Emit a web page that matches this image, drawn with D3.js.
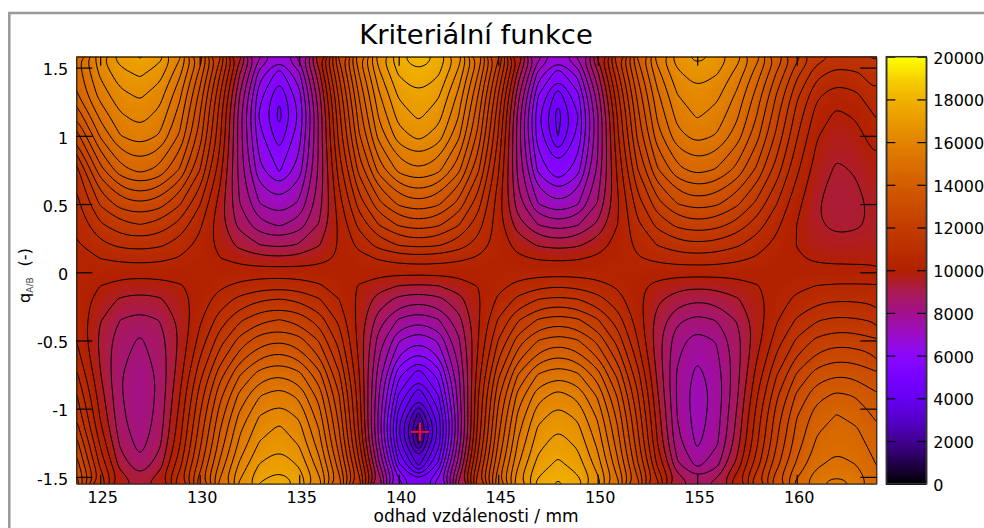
<!DOCTYPE html>
<html>
<head>
<meta charset="utf-8">
<script src="https://cdn.jsdelivr.net/npm/d3@7"></script>
<style>
  body { margin: 0; background: #fff; overflow: hidden; }
  text { font-family: 'DejaVu Sans', sans-serif; fill: #000; }
</style>
</head>
<body>
<svg id="chart" width="984" height="528"></svg>
<script>
// Values, one row per q, one column per distance
const distances = [123.8, 125, 126, 127, 128, 129, 130, 131, 132, 133, 134, 135, 136, 137, 138, 139, 140, 141, 142, 143, 144, 145, 146, 147, 148, 149, 150, 151, 152, 153, 154, 155, 156, 157, 158, 159, 160, 161, 162, 163, 164]
const ratios = [1.58, 1.45, 1.3, 1.15, 1, 0.75, 0.5, 0.35, 0.2, 0.1, 0, -0.1, -0.2, -0.35, -0.5, -0.75, -0.9, -1.05, -1.15, -1.25, -1.4, -1.55]
const criterion = [
  [14800, 16420, 17260, 17550, 17170, 16070, 14330, 12120, 9680, 7580, 6650, 7670, 9960, 12570, 14930, 16780, 17950, 18350, 17950, 16790, 14940, 12590, 9990, 7710, 6700, 7580, 9580, 11910, 14040, 15730, 16780, 17150, 16910, 16220, 15180, 13920, 12680, 11760, 11400, 11440, 11550],
  [14650, 16070, 16810, 17070, 16690, 15580, 13810, 11550, 9020, 6750, 5720, 6870, 9330, 12050, 14470, 16360, 17530, 17940, 17530, 16350, 14460, 12030, 9300, 6810, 5650, 6660, 8870, 11340, 13560, 15290, 16380, 16750, 16500, 15800, 14720, 13420, 12130, 11150, 10780, 10910, 11270],
  [14420, 15690, 16360, 16590, 16210, 15110, 13350, 11080, 8530, 6190, 5080, 6310, 8850, 11600, 14030, 15910, 17080, 17480, 17070, 15880, 13980, 11510, 8690, 6040, 4720, 5880, 8280, 10860, 13130, 14890, 15990, 16370, 16120, 15400, 14300, 12960, 11630, 10610, 10220, 10420, 10950],
  [13620, 15150, 15930, 16210, 15840, 14760, 13020, 10790, 8260, 5940, 4830, 6070, 8600, 11320, 13710, 15560, 16710, 17110, 16710, 15530, 13630, 11180, 8350, 5640, 4260, 5490, 7950, 10550, 12830, 14590, 15680, 16060, 15810, 15090, 13990, 12650, 11310, 10290, 9890, 10070, 10550],
  [12750, 14560, 15480, 15800, 15440, 14420, 12770, 10660, 8290, 6170, 5200, 6280, 8610, 11160, 13420, 15180, 16280, 16660, 16270, 15140, 13320, 10970, 8280, 5740, 4480, 5600, 7920, 10400, 12590, 14280, 15340, 15700, 15450, 14750, 13670, 12370, 11060, 10050, 9670, 9830, 10270],
  [11280, 13300, 14300, 14650, 14340, 13450, 12030, 10250, 8300, 6650, 5930, 6740, 8580, 10710, 12650, 14180, 15150, 15480, 15140, 14150, 12580, 10570, 8350, 6400, 5520, 6300, 8070, 10110, 11970, 13440, 14350, 14670, 14450, 13840, 12890, 11750, 10610, 9760, 9430, 9540, 9850],
  [10810, 12060, 12700, 12930, 12700, 12050, 11040, 9800, 8520, 7520, 7120, 7600, 8780, 10270, 11690, 12840, 13580, 13830, 13570, 12830, 11670, 10230, 8720, 7520, 7030, 7460, 8540, 9910, 11230, 12300, 12990, 13230, 13060, 12590, 11860, 11000, 10150, 9530, 9300, 9390, 9620],
  [10620, 11420, 11850, 12000, 11830, 11340, 10600, 9710, 8830, 8170, 7920, 8230, 9030, 10090, 11140, 12020, 12580, 12780, 12590, 12050, 11220, 10230, 9240, 8490, 8200, 8450, 9110, 10000, 10890, 11650, 12140, 12310, 12180, 11820, 11260, 10620, 10000, 9550, 9380, 9440, 9600],
  [10430, 10860, 11100, 11180, 11080, 10780, 10350, 9840, 9360, 9010, 8880, 9040, 9470, 10050, 10660, 11180, 11530, 11650, 11550, 11250, 10800, 10290, 9800, 9450, 9320, 9430, 9740, 10170, 10630, 11020, 11290, 11380, 11300, 11070, 10740, 10350, 9990, 9730, 9640, 9660, 9700],
  [10300, 10500, 10610, 10650, 10600, 10455, 10250, 10020, 9815, 9670, 9620, 9675, 9830, 10060, 10310, 10540, 10695, 10750, 10710, 10595, 10430, 10250, 10085, 9970, 9930, 9970, 10090, 10260, 10450, 10620, 10735, 10780, 10735, 10610, 10430, 10230, 10050, 9925, 9880, 9885, 9900],
  [10250, 10220, 10200, 10200, 10200, 10210, 10220, 10230, 10240, 10250, 10250, 10240, 10220, 10200, 10190, 10170, 10150, 10150, 10160, 10180, 10210, 10240, 10270, 10290, 10300, 10290, 10270, 10250, 10230, 10210, 10200, 10200, 10200, 10190, 10190, 10180, 10180, 10180, 10180, 10160, 10120],
  [10320, 10000, 9815, 9750, 9805, 9955, 10170, 10410, 10625, 10775, 10830, 10760, 10565, 10280, 9970, 9685, 9490, 9420, 9495, 9710, 10015, 10355, 10660, 10875, 10950, 10880, 10695, 10425, 10125, 9855, 9670, 9600, 9650, 9780, 9975, 10185, 10380, 10510, 10560, 10560, 10550],
  [10350, 9780, 9440, 9320, 9440, 9770, 10240, 10720, 11150, 11430, 11530, 11400, 11050, 10510, 9880, 9280, 8840, 8680, 8850, 9310, 9930, 10590, 11140, 11510, 11640, 11520, 11200, 10710, 10140, 9600, 9210, 9060, 9170, 9440, 9840, 10260, 10620, 10860, 10950, 10930, 10860],
  [10420, 9530, 9000, 8800, 9020, 9610, 10410, 11220, 11910, 12360, 12520, 12320, 11760, 10880, 9820, 8760, 7940, 7620, 7960, 8810, 9940, 11040, 11960, 12550, 12750, 12570, 12050, 11240, 10280, 9320, 8610, 8330, 8530, 9040, 9740, 10450, 11060, 11460, 11600, 11550, 11420],
  [10500, 9380, 8690, 8430, 8750, 9580, 10670, 11760, 12670, 13260, 13460, 13200, 12460, 11290, 9830, 8290, 7050, 6540, 7080, 8390, 9990, 11510, 12730, 13500, 13770, 13530, 12860, 11800, 10510, 9190, 8160, 7750, 8040, 8790, 9780, 10760, 11580, 12110, 12300, 12240, 12060],
  [11100, 9530, 8530, 8140, 8610, 9800, 11310, 12770, 13960, 14720, 14990, 14650, 13660, 12070, 10040, 7750, 5660, 4680, 5710, 7890, 10270, 12370, 14010, 15030, 15380, 15080, 14220, 12860, 11180, 9400, 7940, 7350, 7770, 8830, 10180, 11480, 12550, 13230, 13470, 13370, 13090],
  [11550, 9740, 8570, 8100, 8640, 9990, 11690, 13310, 14620, 15460, 15750, 15370, 14280, 12510, 10210, 7550, 4950, 3570, 5020, 7710, 10470, 12840, 14660, 15790, 16180, 15850, 14910, 13420, 11560, 9570, 7910, 7220, 7710, 8920, 10440, 11900, 13080, 13830, 14090, 13950, 13550],
  [11950, 9950, 8640, 8120, 8710, 10170, 11980, 13710, 15100, 15990, 16300, 15900, 14720, 12820, 10320, 7370, 4280, 2300, 4360, 7540, 10580, 13150, 15100, 16310, 16720, 16380, 15390, 13830, 11870, 9760, 7990, 7250, 7780, 9070, 10680, 12220, 13460, 14240, 14520, 14360, 13900],
  [12250, 10140, 8750, 8180, 8790, 10300, 12170, 13940, 15380, 16280, 16600, 16190, 14980, 13020, 10440, 7360, 4050, 1680, 4140, 7520, 10680, 13320, 15330, 16570, 16990, 16640, 15630, 14040, 12040, 9880, 8070, 7300, 7840, 9160, 10800, 12360, 13620, 14420, 14700, 14540, 14100],
  [12700, 10420, 8910, 8280, 8910, 10450, 12350, 14150, 15600, 16530, 16850, 16430, 15210, 13220, 10620, 7510, 4210, 1930, 4290, 7670, 10850, 13520, 15550, 16800, 17230, 16880, 15860, 14240, 12210, 10010, 8180, 7400, 7940, 9270, 10920, 12490, 13760, 14570, 14850, 14690, 14260],
  [13250, 10860, 9260, 8600, 9240, 10790, 12720, 14560, 16050, 16990, 17320, 16900, 15670, 13690, 11100, 8070, 5020, 3270, 5070, 8180, 11270, 13910, 15920, 17170, 17600, 17240, 16220, 14590, 12560, 10370, 8560, 7800, 8320, 9620, 11240, 12800, 14060, 14870, 15150, 14970, 14480],
  [13800, 11460, 9920, 9300, 9900, 11410, 13300, 15110, 16580, 17520, 17850, 17430, 16230, 14300, 11800, 8960, 6300, 5000, 6330, 9040, 11930, 14470, 16430, 17660, 18080, 17730, 16730, 15150, 13190, 11120, 9440, 8750, 9220, 10420, 11950, 13430, 14650, 15430, 15700, 15440, 14700]
]

const xTicks = [125, 130, 135, 140, 145, 150, 155, 160]
const yTicks = [-1.5, -1, -0.5, 0, 0.5, 1, 1.5]
const colorTicks = [0, 2000, 4000, 6000, 8000, 10000, 12000, 14000, 16000, 18000, 20000]
const paletteValues = [0, 1000, 2000, 3000, 4000, 5000, 6000, 7000, 8000, 9000, 10000, 12000, 14000, 16000, 18000, 19000, 20000]
const paletteColors = ['#000000', '#21004a', '#40008f', '#5500c8', '#6600f0', '#7600ff', '#8a08ff', '#9a0cc8', '#a2108e', '#a91a55', '#b22000', '#c23c00', '#d25c00', '#e28200', '#f0b000', '#f6d000', '#ffff00']
const bestDistance = 141.07
const bestRatio = -1.17

const plot = { left: 76.3, right: 876.3, top: 56.7, bottom: 483.7 }
const bar = { left: 886.3, right: 926.3 }

const svg = d3.select('#chart')

const x = d3.scaleLinear().domain([123.8, 164]).range([plot.left, plot.right])
const y = d3.scaleLinear().domain([-1.55, 1.58]).range([plot.bottom, plot.top])
const color = d3.scaleLinear().domain(paletteValues).range(paletteColors).clamp(true)
const barY = d3.scaleLinear().domain([0, 20000]).range([plot.bottom, plot.top])

// Outer gray frame of the original window
svg.append('path')
  .attr('d', 'M9.3,528V13H984')
  .attr('fill', 'none')
  .attr('stroke', '#999')
  .attr('stroke-width', 2.5)

svg.append('defs').append('clipPath').attr('id', 'plotClip')
  .append('rect')
  .attr('x', plot.left)
  .attr('y', plot.top)
  .attr('width', plot.right - plot.left)
  .attr('height', plot.bottom - plot.top)

// d3.contours puts a value at index + 0.5, so map grid coords back to data
const gridX = d3.scaleLinear().domain(distances.map((d, i) => i + 0.5)).range(distances.map(d => x(d)))
const gridY = d3.scaleLinear().domain(ratios.map((d, i) => i + 0.5)).range(ratios.map(d => y(d)))

// Rounded rings, the grid is too coarse for straight segments to look right
const ringLine = d3.line()
  .curve(d3.curveBasisClosed)
  .x(p => gridX(p[0]))
  .y(p => gridY(p[1]))
const path = d => d.coordinates.flat().map(ring => ringLine(ring.slice(0, -1))).join('')

const contours = d3.contours().size([distances.length, ratios.length])
const flat = criterion.flat()

const map = svg.append('g').attr('clip-path', 'url(#plotClip)')

map.append('rect')
  .attr('x', plot.left)
  .attr('y', plot.top)
  .attr('width', plot.right - plot.left)
  .attr('height', plot.bottom - plot.top)
  .attr('fill', color(10200))

// Color map as stacked thin bands
map.append('g')
  .selectAll('path')
  .data(contours.thresholds(d3.range(0, 20000, 50))(flat))
  .enter()
  .append('path')
  .attr('d', path)
  .attr('fill', d => color(d.value + 25))

// Contour lines every 500
map.append('g')
  .selectAll('path')
  .data(contours.thresholds(d3.range(500, 20000, 500))(flat))
  .enter()
  .append('path')
  .attr('d', path)
  .attr('fill', 'none')
  .attr('stroke', '#000')
  .attr('stroke-width', 1)

// Axes, ticks point inward
function styleAxis (g) {
  g.selectAll('line').attr('stroke', '#000').attr('stroke-width', 1.2)
  g.select('.domain').attr('stroke', '#222').attr('stroke-width', 1.2)
  g.selectAll('text').style('font-size', '16px').style('font-family', "'DejaVu Sans', sans-serif").attr('fill', '#000')
}

svg.append('g')
  .attr('transform', 'translate(0,' + plot.bottom + ')')
  .call(d3.axisBottom(x).tickValues(xTicks).tickSize(-9).tickSizeOuter(0).tickPadding(7.5).tickFormat(d => String(d)))
  .call(styleAxis)
  .call(g => g.selectAll('text').attr('dx', 2))

svg.append('g')
  .attr('transform', 'translate(0,' + plot.top + ')')
  .call(d3.axisTop(x).tickValues(xTicks).tickSize(-9).tickSizeOuter(0).tickFormat(''))
  .call(styleAxis)

svg.append('g')
  .attr('transform', 'translate(' + plot.left + ',0)')
  .call(d3.axisLeft(y).tickValues(yTicks).tickSize(-16).tickSizeOuter(0).tickPadding(8).tickFormat(d => String(d)))
  .call(styleAxis)
  .call(g => g.selectAll('text').attr('dy', '0.45em'))

svg.append('g')
  .attr('transform', 'translate(' + plot.right + ',0)')
  .call(d3.axisRight(y).tickValues(yTicks).tickSize(-16).tickSizeOuter(0).tickFormat(''))
  .call(styleAxis)

// Minimum of the criterion
const cross = svg.append('g').attr('stroke', '#e8102c').attr('stroke-width', 2)
cross.append('line')
  .attr('x1', x(bestDistance) - 9).attr('x2', x(bestDistance) + 9)
  .attr('y1', y(bestRatio)).attr('y2', y(bestRatio))
cross.append('line')
  .attr('x1', x(bestDistance)).attr('x2', x(bestDistance))
  .attr('y1', y(bestRatio) - 9).attr('y2', y(bestRatio) + 9)

// Color bar
svg.append('g')
  .attr('shape-rendering', 'crispEdges')
  .selectAll('rect')
  .data(d3.range(0, 20000, 50))
  .enter()
  .append('rect')
  .attr('x', bar.left)
  .attr('width', bar.right - bar.left)
  .attr('y', d => barY(d + 50))
  .attr('height', d => barY(d) - barY(d + 50) + 1)
  .attr('fill', d => color(d + 25))

svg.append('g')
  .attr('transform', 'translate(' + bar.right + ',0)')
  .call(d3.axisRight(barY).tickValues(colorTicks).tickSize(-9).tickSizeOuter(0).tickPadding(7).tickFormat(d => String(d)))
  .call(styleAxis)
  .call(g => g.selectAll('text').attr('dy', '0.4em'))

svg.append('g')
  .attr('transform', 'translate(' + bar.left + ',0)')
  .call(d3.axisLeft(barY).tickValues(colorTicks).tickSize(-9).tickSizeOuter(0).tickFormat(''))
  .call(styleAxis)

svg.append('rect')
  .attr('x', bar.left)
  .attr('y', plot.top)
  .attr('width', bar.right - bar.left)
  .attr('height', plot.bottom - plot.top)
  .attr('fill', 'none')
  .attr('stroke', '#333')
  .attr('stroke-width', 1.5)

// Titles
svg.append('text')
  .attr('x', 476)
  .attr('y', 44)
  .attr('text-anchor', 'middle')
  .style('font-size', '27.4px')
  .text('Kriteriální funkce')

svg.append('text')
  .attr('x', 476)
  .attr('y', 521.5)
  .attr('text-anchor', 'middle')
  .style('font-size', '17px')
  .text('odhad vzdálenosti / mm')

const yLabel = svg.append('text')
  .attr('transform', 'translate(30,275.5) rotate(-90)')
  .attr('text-anchor', 'middle')
  .style('font-size', '16px')
yLabel.append('tspan').text('q')
yLabel.append('tspan').attr('dy', 3).style('font-size', '9px').attr('fill', '#444').text('A/B')
yLabel.append('tspan').attr('dy', -3).attr('dx', 11).text('(-)')
</script>
</body>
</html>
